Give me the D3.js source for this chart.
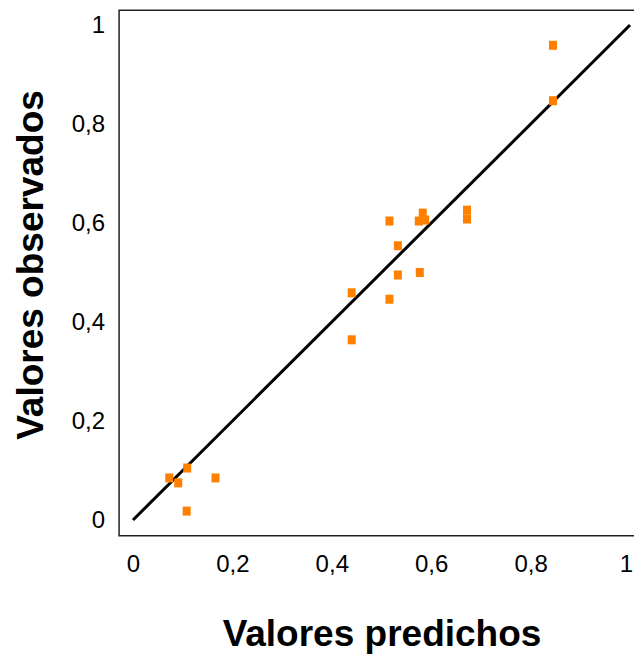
<!DOCTYPE html>
<html>
<head>
<meta charset="utf-8">
<script src="https://cdn.jsdelivr.net/npm/d3@7"></script>
<style>
  html, body { margin: 0; padding: 0; background: #fff; }
  svg { display: block; font-family: "Liberation Sans", Arial, sans-serif; }
</style>
</head>
<body>
<svg id="chart" width="634" height="655"></svg>
<script>
// Predicted vs observed values
const predicted = [0.073, 0.091, 0.109, 0.166, 0.108, 0.44, 0.44, 0.516, 0.516, 0.533,
                   0.533, 0.577, 0.575, 0.583, 0.588, 0.672, 0.672, 0.845, 0.845];
const observed  = [0.085, 0.075, 0.105, 0.085, 0.018, 0.459, 0.364, 0.604, 0.446, 0.554,
                   0.495, 0.5, 0.604, 0.62, 0.606, 0.626, 0.608, 0.959, 0.847];
const tickValues = [0, 0.2, 0.4, 0.6, 0.8, 1];
const tickLabels = ["0", "0,2", "0,4", "0,6", "0,8", "1"];

const svg = d3.select("#chart");

const x = d3.scaleLinear().domain([0, 1]).range([133, 630]);
const y = d3.scaleLinear().domain([0, 1]).range([520, 25]);

// Plot frame (left, top, bottom)
const frameL = x(-0.028), frameT = y(1.03), frameB = y(-0.032), frameR = x(1.03);
svg.append("path")
  .attr("d", `M${frameR},${frameT}H${frameL}V${frameB}H${frameR}`)
  .attr("fill", "none")
  .attr("stroke", "#222")
  .attr("stroke-width", 1.5);

// Axes: labels only, no tick marks or domain line
const fmt = (d) => tickLabels[tickValues.indexOf(d)];
const xAxis = svg.append("g")
  .attr("transform", `translate(0,${frameB})`)
  .call(d3.axisBottom(x).tickValues(tickValues).tickFormat(fmt).tickSize(0).tickPadding(19));
const yAxis = svg.append("g")
  .attr("transform", `translate(${frameL},0)`)
  .call(d3.axisLeft(y).tickValues(tickValues).tickFormat(fmt).tickSize(0).tickPadding(14));
[xAxis, yAxis].forEach(g => {
  g.select(".domain").remove();
  g.attr("font-size", 24).attr("font-family", "'Liberation Sans', Arial, sans-serif");
  g.selectAll("text").attr("fill", "#000");
});
// keep the last x label inside the page edge
xAxis.selectAll(".tick text").filter(d => d === 1).attr("dx", -4);

// 1:1 reference line
svg.append("line")
  .attr("x1", x(0)).attr("y1", y(0))
  .attr("x2", x(1)).attr("y2", y(1))
  .attr("stroke", "#000")
  .attr("stroke-width", 3);

// Points
const pts = predicted.map((p, i) => ({ p, o: observed[i] }));
svg.append("g").selectAll("rect")
  .data(pts)
  .enter().append("rect")
  .attr("x", d => x(d.p) - 4)
  .attr("y", d => y(d.o) - 4.5)
  .attr("width", 8)
  .attr("height", 9)
  .attr("fill", "#ff8000");

// Axis titles
svg.append("text")
  .attr("x", 382).attr("y", 646)
  .attr("text-anchor", "middle")
  .attr("font-size", 37)
  .attr("font-weight", "bold")
  .text("Valores predichos");

svg.append("text")
  .attr("transform", `translate(43,265) rotate(-90)`)
  .attr("text-anchor", "middle")
  .attr("font-size", 37)
  .attr("font-weight", "bold")
  .text("Valores observados");
</script>
</body>
</html>
